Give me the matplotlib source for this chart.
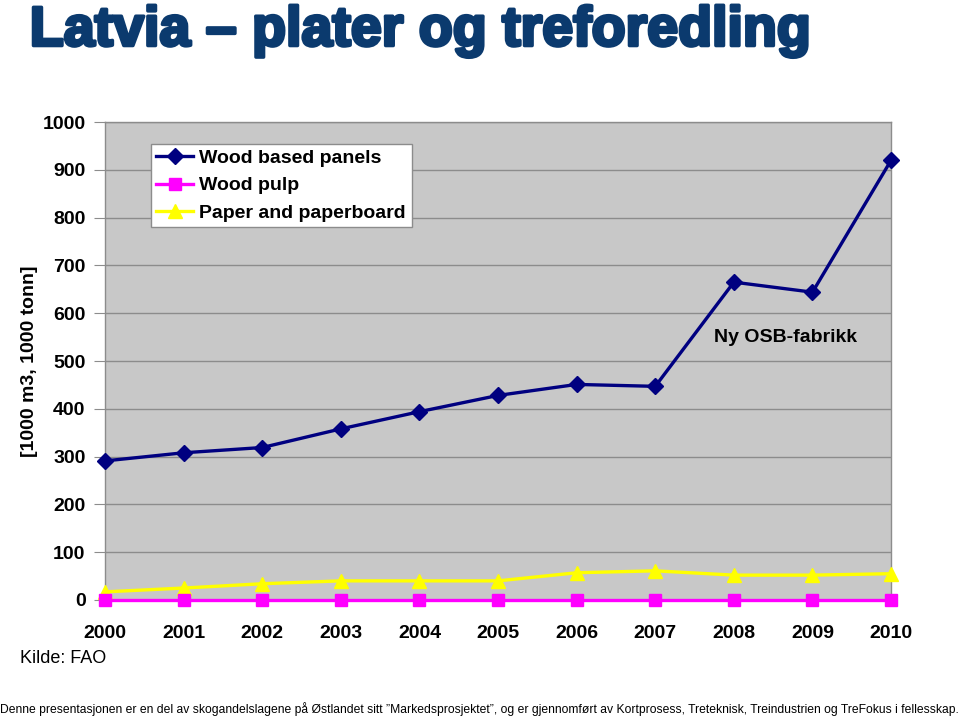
import matplotlib.pyplot as plt
import matplotlib.patheffects as pe

# Data
years = [2000, 2001, 2002, 2003, 2004, 2005, 2006, 2007, 2008, 2009, 2010]
panels = [291, 308, 319, 358, 394, 428, 451, 447, 665, 644, 920]
pulp = [0, 0, 0, 0, 0, 0, 0, 0, 0, 0, 0]
paper = [17, 25, 34, 40, 40, 40, 57, 61, 52, 52, 55]
yticks = [0, 100, 200, 300, 400, 500, 600, 700, 800, 900, 1000]

plt.rcParams["font.family"] = ["Liberation Sans", "DejaVu Sans"]

fig = plt.figure(figsize=(9.6, 7.17), dpi=100)
ax = fig.add_axes([0.1094, 0.1632, 0.8188, 0.6666])
ax.set_facecolor("#C8C8C8")

ax.plot(years, panels, color="#000080", linewidth=2.4, marker="D",
        markersize=8, label="Wood based panels", zorder=4, clip_on=False)
ax.plot(years, pulp, color="#FF00FF", linewidth=2.4, marker="s",
        markersize=9, label="Wood pulp", zorder=4, clip_on=False)
ax.plot(years, paper, color="#FFFF00", linewidth=2.4, marker="^",
        markersize=10, label="Paper and paperboard", zorder=3, clip_on=False)

ax.set_xlim(2000, 2010)
ax.set_ylim(0, 1000)
ax.set_yticks(yticks)
ax.set_xticks(years)
ax.grid(axis="y", color="#8C8C8C", linewidth=1)
ax.set_axisbelow(True)

for s in ["left", "right", "top"]:
    ax.spines[s].set_color("#8C8C8C")
    ax.spines[s].set_linewidth(1)
ax.spines["bottom"].set_visible(False)

ax.tick_params(axis="y", length=8, color="#8C8C8C", pad=6, labelsize=14)
ax.tick_params(axis="x", length=0, pad=18, labelsize=14)
for lbl in ax.get_xticklabels() + ax.get_yticklabels():
    lbl.set_fontweight("bold")

ax.set_ylabel("[1000 m3, 1000 tonn]", fontsize=14, fontweight="bold", labelpad=3)

leg = ax.legend(loc="upper left", bbox_to_anchor=(0.058, 0.955),
                prop={"weight": "bold", "size": 14}, frameon=True, fancybox=False,
                borderpad=0.3, labelspacing=0.5, handlelength=1.9,
                handletextpad=0.3, borderaxespad=0, framealpha=1)
leg.get_frame().set_edgecolor("#8C8C8C")
leg.get_frame().set_linewidth(1)

ax.text(2007.75, 550, "Ny OSB-fabrikk", fontsize=14, fontweight="bold",
        va="center", ha="left")

fig.text(0.031, 0.956, "Latvia \u2013 plater og treforedling",
         fontsize=40, fontweight="bold", color="#0B3A6E", va="center", ha="left",
         path_effects=[pe.withStroke(linewidth=2.5, foreground="#0B3A6E")])

fig.text(0.021, 0.082, "Kilde: FAO", fontsize=13, va="center")

fig.text(0.499, 0.011,
         "Denne presentasjonen er en del av skogandelslagene p\u00e5 \u00d8stlandet sitt "
         "\u201dMarkedsprosjektet\u201d, og er gjennomf\u00f8rt av Kortprosess, Treteknisk, "
         "Treindustrien og TreFokus i fellesskap.",
         fontsize=8.7, ha="center", va="center")

fig.savefig("out.png", dpi=100)
